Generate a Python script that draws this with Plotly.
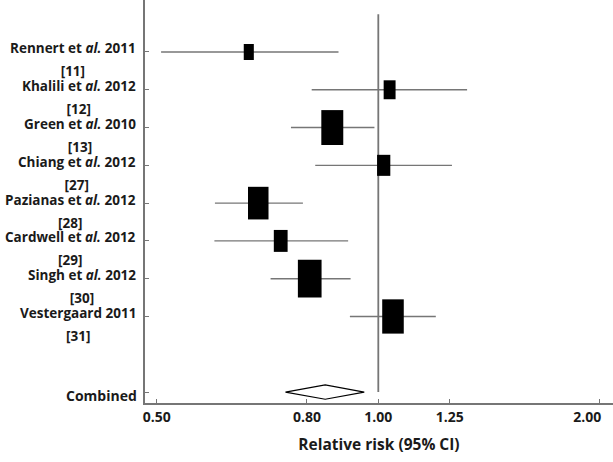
import math
import plotly.graph_objects as go

# ---- data ----
study_names = [
    "Rennert et <i>al.</i> 2011",
    "Khalili et <i>al.</i> 2012",
    "Green et <i>al.</i> 2010",
    "Chiang et <i>al.</i> 2012",
    "Pazianas et <i>al.</i> 2012",
    "Cardwell et <i>al.</i> 2012",
    "Singh et <i>al.</i> 2012",
    "Vestergaard 2011",
]
study_refs = ["[11]", "[12]", "[13]", "[27]", "[28]", "[29]", "[30]", "[31]"]
rr = [0.667, 1.036, 0.866, 1.017, 0.687, 0.737, 0.807, 1.047]
ci_low = [0.507, 0.812, 0.761, 0.821, 0.600, 0.599, 0.714, 0.915]
ci_high = [0.883, 1.320, 0.988, 1.259, 0.790, 0.910, 0.917, 1.197]
weights = [4.0, 5.6, 19.0, 6.9, 16.6, 7.5, 22.1, 18.3]

combined_label = "Combined"
combined_rr = 0.847
combined_low = 0.748
combined_high = 0.957

tick_vals = [0.5, 0.8, 1.0, 1.25, 2.0]
tick_text = ["0.50", "0.80", "1.00", "1.25", "2.00"]
x_title = "Relative risk (95% CI)"

# ---- layout helpers ----
rows = list(range(1, len(rr) + 1))
combined_row = len(rr) + 2
FONT = "'Open Sans', Lato, sans-serif"
GREY = "#767676"
TXT = "#1a1a1a"

fig = go.Figure()

# confidence interval lines
seg_x, seg_y = [], []
for l, h, r in zip(ci_low, ci_high, rows):
    seg_x += [l, h, None]
    seg_y += [r, r, None]
fig.add_trace(go.Scatter(x=seg_x, y=seg_y, mode="lines",
                         line=dict(color=GREY, width=1.4),
                         hoverinfo="skip", showlegend=False))

# line of no effect
fig.add_trace(go.Scatter(x=[1.0, 1.0], y=[0, combined_row], mode="lines",
                         line=dict(color=GREY, width=1.8),
                         hoverinfo="skip", showlegend=False))

# weighted boxes: size grows with sqrt(weight)
H_PER_SQRTW = 0.212    # full box height, in row units, per sqrt(weight)
W_PER_SQRTW = 0.00788  # half box width, in ln(RR) units, per sqrt(weight)
for est, r, w in zip(rr, rows, weights):
    hh = H_PER_SQRTW * math.sqrt(w) / 2
    hw = W_PER_SQRTW * math.sqrt(w)
    fig.add_shape(type="rect", xref="x", yref="y",
                  x0=est * math.exp(-hw), x1=est * math.exp(hw),
                  y0=r - hh, y1=r + hh,
                  fillcolor="black", line=dict(width=0), layer="above")

# combined diamond
dh = 0.19
fig.add_trace(go.Scatter(
    x=[combined_low, combined_rr, combined_high, combined_rr, combined_low],
    y=[combined_row, combined_row - dh, combined_row, combined_row + dh, combined_row],
    mode="lines", fill="toself", fillcolor="white",
    line=dict(color="black", width=1.2),
    hoverinfo="skip", showlegend=False))

# study labels
for name, ref, r in zip(study_names, study_refs, rows):
    fig.add_annotation(
        x=0, xref="paper", y=r, yref="y",
        text=f"<span style='font-size:13.5px'>{name}</span><br>"
             f"<span style='font-size:13.5px'>{ref}</span>",
        showarrow=False, xanchor="right", yanchor="middle", align="center",
        xshift=-7, yshift=-8,
        font=dict(family=FONT, size=18, color=TXT, weight="bold"))
fig.add_annotation(
    x=0, xref="paper", y=combined_row, yref="y", text=combined_label,
    showarrow=False, xanchor="right", yanchor="middle",
    xshift=-6, yshift=-3,
    font=dict(family=FONT, size=14, color=TXT, weight="bold"))

lo_r = math.log10(math.exp((145 - 378.3) / 319.8))
hi_r = math.log10(math.exp((613 - 378.3) / 319.8))

# last tick label sits left of its tick (right-aligned at the plot edge)
tick_text_shown = tick_text[:-1] + [tick_text[-1] + "&nbsp;" * 7]

fig.update_layout(
    width=613, height=462,
    margin=dict(l=145, r=0, t=0, b=59, autoexpand=False),
    paper_bgcolor="white", plot_bgcolor="white",
    font=dict(family=FONT, color=TXT),
    xaxis=dict(type="log", range=[lo_r, hi_r], automargin=False,
               tickvals=tick_vals, ticktext=tick_text_shown,
               ticks="inside", ticklen=4, tickcolor=GREY, tickwidth=1,
               showline=True, linecolor=GREY, linewidth=1.8,
               showgrid=False, zeroline=False, ticklabelstandoff=0,
               ticklabeloverflow="allow",
               tickfont=dict(family=FONT, size=14, color=TXT, weight="bold"),
               title=dict(text=x_title, standoff=14,
                          font=dict(family=FONT, size=15.5, color=TXT, weight="bold"))),
    yaxis=dict(range=[combined_row + 0.29, -0.376], automargin=False,
               tickvals=rows + [combined_row], ticktext=[""] * (len(rows) + 1),
               ticks="inside", ticklen=4, tickcolor=GREY, tickwidth=1,
               showline=True, linecolor=GREY, linewidth=1.8,
               showgrid=False, zeroline=False, showticklabels=False),
)

fig.write_html("out.html", config={"displayModeBar": False},
               post_script="document.body.style.margin='0px';")
